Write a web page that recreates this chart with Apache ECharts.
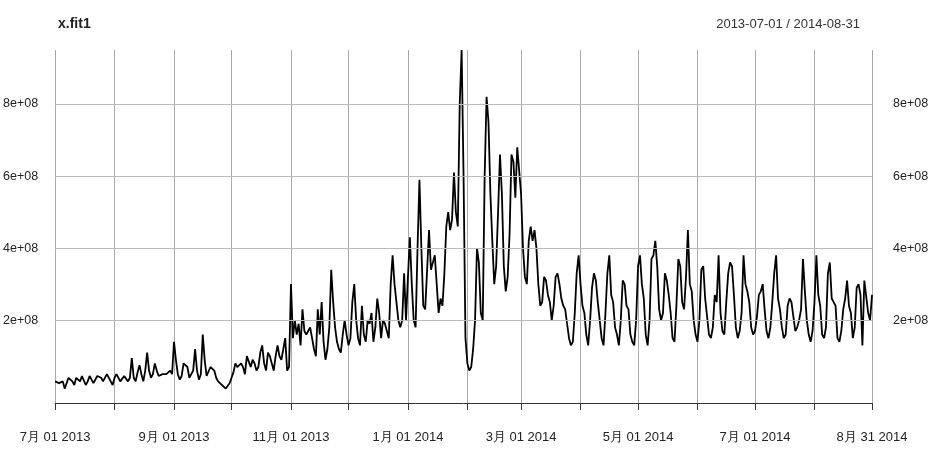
<!DOCTYPE html><html><head><meta charset="utf-8"><script src="https://cdn.jsdelivr.net/npm/echarts@6/dist/echarts.min.js"></script></head><body style="margin:0"><div id="c" style="width:933px;height:449px"></div><script>
const startDate='2013-07-01';
const m07=[0.3,0.3,0.25,0.2,0.3,0.1,0.25,0.4,0.35,0.3,0.2,0.4,0.35,0.3,0.45,0.4,0.2,0.3,0.45,0.35,0.25,0.2,0.45,0.5,0.4,0.3,0.35,0.5,0.45,0.3,0.2];
const m08=[0.4,0.5,0.45,0.3,0.25,0.45,0.5,0.3,0.4,0.95,0.4,0.3,0.55,0.75,0.5,0.3,0.6,1.1,0.6,0.4,0.5,0.8,0.6,0.45,0.4,0.5,0.45,0.5,0.55,0.6,0.5];
const m09=[1.4,0.9,0.5,0.35,0.45,0.8,0.85,0.7,0.4,0.5,0.6,1.2,0.6,0.35,0.5,1.6,0.9,0.45,0.5,0.7,0.7,0.6,0.4,0.3,0.25,0.2,0.15,0.1,0.15,0.25];
const m10=[0.4,0.55,0.8,0.7,0.65,0.8,0.7,0.5,1.0,0.85,0.7,0.9,0.8,0.6,0.7,1.1,1.3,0.8,0.6,1.1,1.0,0.8,0.6,1.0,1.3,1.0,0.9,1.2,1.5,0.6,0.7];
const m11=[3.0,1.5,2.0,1.6,1.9,1.3,2.3,1.7,1.6,1.7,1.8,1.5,1.2,1.0,2.3,1.6,2.5,1.4,0.9,1.2,1.8,3.4,2.5,1.8,1.4,1.2,1.1,1.6,2.0,1.6];
const m12=[1.3,1.5,2.5,3.0,2.0,1.5,1.3,2.4,1.6,1.4,2.0,1.9,2.2,1.4,1.8,2.6,2.2,1.5,2.0,1.9,1.7,1.5,3.0,3.8,3.0,2.5,2.0,1.8,2.0,3.3,2.0];
const m13=[3.2,4.3,3.0,2.0,1.8,4.0,5.9,4.0,2.4,2.3,2.3,4.5,3.4,3.6,3.8,3.0,2.2,2.6,2.4,3.3,4.6,5.0,4.5,4.8,6.1,5.0,4.6,8.0,9.5,6.0,1.5];
const m14=[0.8,0.6,0.7,1.2,2.0,4.0,3.6,2.2,2.0,6.0,8.2,7.5,5.5,4.2,3.0,3.5,5.0,6.6,5.5,3.5,2.8,3.2,4.4,6.6,6.4,5.4,6.8,6.8];
const m15=[5.5,4.0,3.2,3.0,4.2,4.6,4.2,4.5,4.0,3.0,2.4,2.5,3.2,3.1,2.7,2.5,2.0,2.4,3.2,3.3,3.0,2.6,2.4,2.3,1.9,1.5,1.3,1.4,2.2,3.3,3.8];
const m16=[3.0,2.4,2.2,1.6,1.3,2.0,2.9,3.3,3.1,2.5,2.0,1.5,1.3,2.2,3.3,3.8,2.7,2.5,1.8,1.6,1.3,2.0,3.1,3.0,2.4,2.3,1.6,1.4,1.3,2.0];
const m17=[3.5,3.8,3.0,2.6,1.6,1.3,2.0,3.7,3.8,4.2,3.5,2.3,2.0,2.2,3.3,3.1,2.7,2.2,1.5,1.4,2.4,3.7,3.5,2.5,2.3,3.2,4.5,3.0,2.8,2.0,1.6];
const m18=[1.4,2.0,3.4,3.5,2.6,2.6,1.6,1.5,1.8,2.7,2.5,3.8,2.2,1.7,1.6,2.5,3.3,3.6,3.5,2.7,1.8,1.5,1.7,2.2,3.8,3.0,2.8,2.5,1.8,1.6];
const m19=[1.7,2.1,2.7,2.8,3.0,2.3,1.7,1.5,1.8,2.5,3.3,3.8,2.6,2.3,1.8,1.5,1.6,2.4,2.6,2.5,2.1,1.7,1.8,2.0,2.3,3.7,2.8,2.0,1.6,1.4,1.7];
const m20=[2.5,3.8,2.7,2.4,1.6,1.5,1.8,3.3,3.6,2.6,2.5,2.4,1.5,1.4,1.7,2.3,2.6,3.1,2.4,2.2,1.5,1.8,2.9,3.0,2.7,1.3,3.1,3.1,2.2,2.0,2.7];
const values=[].concat(m07,m08,m09,m10,m11,m12,m13,m14,m15,m16,m17,m18,m19,m20);
const yTicks=[2,4,6,8];
const labelDates=['2013-07-01','2013-09-01','2013-11-01','2014-01-01','2014-03-01','2014-05-01','2014-07-01','2014-08-31'];
const labelText=['7月 01 2013','9月 01 2013','11月 01 2013','1月 01 2014','3月 01 2014','5月 01 2014','7月 01 2014','8月 31 2014'];
const dates=[];const t0=Date.UTC(2013,6,1);
for(let i=0;i<values.length;i++){dates.push(new Date(t0+i*86400000).toISOString().slice(0,10));}
const isGrid=(i)=>dates[i].slice(8)==='01'||i===dates.length-1;
const fmt=v=>yTicks.includes(Math.round(v*1000)/1000)?v+'e+08':'';
const ya={type:'value',min:-0.3,max:9.5,interval:0.1,axisLine:{show:false},axisTick:{show:false},
 splitLine:{show:false},axisLabel:{color:'#222',fontSize:12.5,fontFamily:'Liberation Sans',formatter:fmt,showMinLabel:false,showMaxLabel:false}};
const chart=echarts.init(document.getElementById('c'));
chart.setOption({animation:false,
 title:[{text:'x.fit1',left:53,top:12,textStyle:{fontSize:14,fontWeight:'bold',color:'#222',fontFamily:'Liberation Sans'}},
  {text:'2013-07-01 / 2014-08-31',right:68,top:13,textStyle:{fontSize:13,fontWeight:'normal',color:'#333',fontFamily:'Liberation Sans'}}],
 grid:{left:55,right:61,top:50,bottom:46},
 xAxis:{type:'category',data:dates,boundaryGap:false,
  axisLine:{onZero:false,lineStyle:{color:'#333'}},
  axisTick:{interval:(i)=>isGrid(i),length:7,lineStyle:{color:'#333'}},
  splitLine:{show:true,interval:(i)=>isGrid(i),lineStyle:{color:'#aaa',width:1}},
  axisLabel:{interval:(i,v)=>labelDates.includes(v),margin:28,color:'#222',fontSize:13,fontFamily:'Liberation Sans',
   formatter:(v)=>labelText[labelDates.indexOf(v)]||''}},
 yAxis:[Object.assign({},ya,{position:'left',axisLabel:Object.assign({},ya.axisLabel,{margin:17})}),
        Object.assign({},ya,{position:'right',axisLabel:Object.assign({},ya.axisLabel,{margin:21})})],
 series:[{type:'line',data:values,showSymbol:false,lineStyle:{color:'#000',width:1.8},
  markLine:{silent:true,symbol:'none',label:{show:false},lineStyle:{color:'#bbb',type:'solid',width:1},data:yTicks.map(v=>({yAxis:v}))},z:3}]
});
</script></body></html>
